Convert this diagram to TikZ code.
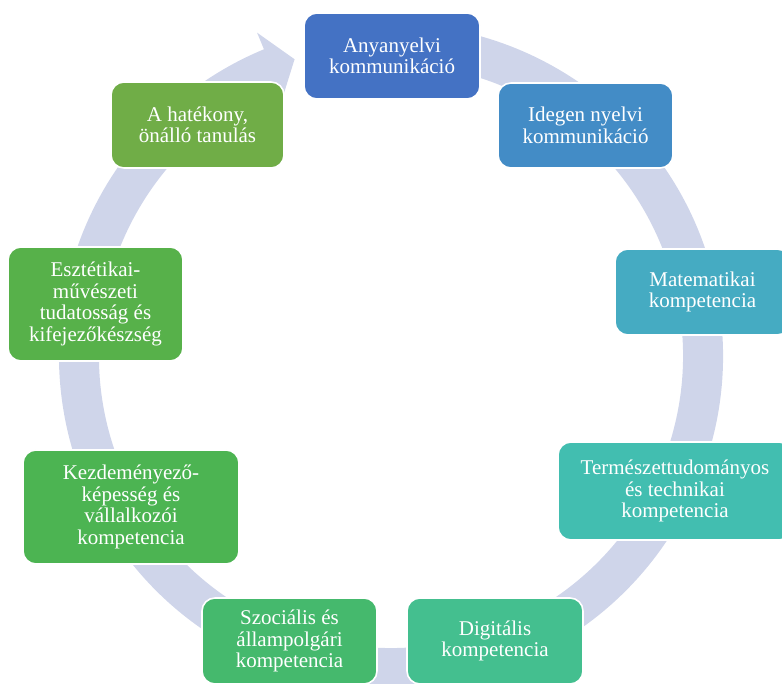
\documentclass[tikz,border=0pt]{standalone}
\usepackage{fontspec}
\setmainfont{Liberation Serif}
\definecolor{ringc}{RGB}{207,213,234}
\definecolor{c1}{RGB}{68,114,196}
\definecolor{c2}{RGB}{67,140,198}
\definecolor{c3}{RGB}{69,171,194}
\definecolor{c4}{RGB}{66,190,176}
\definecolor{c5}{RGB}{68,191,143}
\definecolor{c6}{RGB}{69,185,109}
\definecolor{c7}{RGB}{76,180,82}
\definecolor{c8}{RGB}{87,177,74}
\definecolor{c9}{RGB}{112,173,71}
\tikzset{
  cbox/.style={rectangle, rounded corners=13pt, draw=white, line width=1.6pt,
    text=white, align=center, inner sep=2pt,
    font=\fontsize{21}{21.5}\selectfont},
  ringarrow/.style={fill=ringc, draw=none}
}
\begin{document}
\begin{tikzpicture}[x=1pt,y=1pt]
\useasboundingbox (0,0) rectangle (782,-684);
\clip (0,0) rectangle (782,-684);
% circular arrow
\begin{scope}[shift={(391,-356)}]
\fill[ringarrow] (102:332pt) arc[start angle=102, end angle=-247.5, radius=332pt]
  -- (-247.5:350pt) -- (-252:312pt) -- (-246.5:276pt) -- (-247.5:292pt)
  arc[start angle=-247.5, end angle=102, radius=292pt] -- cycle;
\end{scope}
% boxes
\node[cbox, fill=c1, minimum width=176pt, minimum height=86pt] (n1) at (392,-56) {Anyanyelvi\\kommunikáció};
\node[cbox, fill=c2, minimum width=175pt, minimum height=85pt] (n2) at (585.5,-125.5) {Idegen nyelvi\\kommunikáció};
\node[cbox, fill=c3, minimum width=175pt, minimum height=86pt] (n3) at (702.5,-292) {Matematikai\\kompetencia};
\node[cbox, fill=c4, minimum width=234pt, minimum height=98pt] (n4) at (675,-491) {Természettudományos\\és technikai\\kompetencia};
\node[cbox, fill=c5, minimum width=176pt, minimum height=86pt] (n5) at (495,-641) {Digitális\\kompetencia};
\node[cbox, fill=c6, minimum width=175pt, minimum height=86pt] (n6) at (289.5,-641) {Szociális és\\állampolgári\\kompetencia};
\node[cbox, fill=c7, minimum width=216pt, minimum height=114pt] (n7) at (131,-507) {Kezdeményező-\\képesség és\\vállalkozói\\kompetencia};
\node[cbox, fill=c8, minimum width=175pt, minimum height=114pt] (n8) at (95.5,-304) {Esztétikai-\\művészeti\\tudatosság és\\kifejezőkészség};
\node[cbox, fill=c9, minimum width=173pt, minimum height=86pt] (n9) at (197.5,-125) {A hatékony,\\önálló tanulás};
\end{tikzpicture}
\end{document}
